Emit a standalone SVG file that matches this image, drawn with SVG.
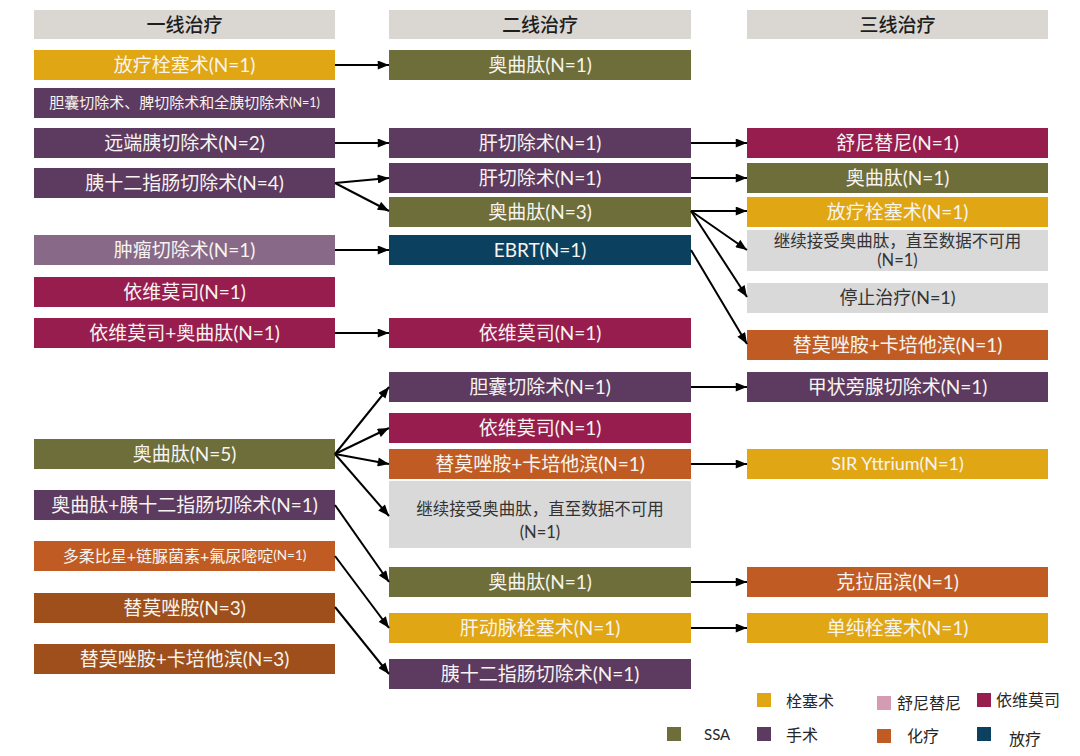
<svg xmlns="http://www.w3.org/2000/svg" width="1080" height="756" viewBox="0 0 1080 756">
<defs>
<marker id="ah" viewBox="0 0 10 8" refX="10" refY="4" markerWidth="12" markerHeight="9" markerUnits="userSpaceOnUse" orient="auto">
<path d="M0,0 L10,4 L0,8 Z" fill="#000"/>
</marker>
<style>
text{font-family:Lato,"Noto Sans CJK SC",sans-serif;text-anchor:middle;dominant-baseline:central;fill:#F7F4F0;font-size:19px}
.hd{fill:#DAD7D3}
.hdt{fill:#1E1E1E;font-weight:500}
.gr{fill:#D9D9D9}
.grt{fill:#333;font-size:16.5px}
.sm{font-size:15px}
.sm2{font-size:16px}
.gold{fill:#E0A614}
.pur{fill:#5D3A5F}
.lpur{fill:#886A88}
.olv{fill:#6D6E39}
.mag{fill:#981D4F}
.org{fill:#C05C23}
.brn{fill:#9E4F1B}
.teal{fill:#0B405F}
.pink{fill:#D49BB2}
.lg{fill:#262626;font-size:16px;text-anchor:start;dominant-baseline:alphabetic}
#connectors path{stroke:#000;stroke-width:2;fill:none;marker-end:url(#ah)}
rect{stroke:none}
</style>
</defs>
<rect width="1080" height="756" fill="#fff"/>

<!-- headers -->
<g id="h1"><rect class="hd" x="34" y="10" width="301" height="29"/><text class="hdt" x="184.5" y="24">一线治疗</text></g>
<g id="h2"><rect class="hd" x="389" y="10" width="302" height="29"/><text class="hdt" x="540" y="24">二线治疗</text></g>
<g id="h3"><rect class="hd" x="747" y="10" width="301" height="29"/><text class="hdt" x="897.5" y="24">三线治疗</text></g>

<!-- column 1 -->
<g id="c1n1"><rect class="gold" x="34" y="50" width="301" height="30"/><text x="184.5" y="64">放疗栓塞术(N=1)</text></g>
<g id="c1n2"><rect class="pur" x="34" y="88" width="301" height="30"/><text class="sm" x="184.5" y="102">胆囊切除术、脾切除术和全胰切除术<tspan style="font-size:12.5px">(N=1)</tspan></text></g>
<g id="c1n3"><rect class="pur" x="34" y="128" width="301" height="30"/><text x="184.5" y="142">远端胰切除术(N=2)</text></g>
<g id="c1n4"><rect class="pur" x="34" y="168" width="301" height="30"/><text x="184.5" y="182">胰十二指肠切除术(N=4)</text></g>
<g id="c1n5"><rect class="lpur" x="34" y="235" width="301" height="30"/><text x="184.5" y="249">肿瘤切除术(N=1)</text></g>
<g id="c1n6"><rect class="mag" x="34" y="277" width="301" height="30"/><text x="184.5" y="291">依维莫司(N=1)</text></g>
<g id="c1n7"><rect class="mag" x="34" y="318" width="301" height="30"/><text x="184.5" y="332">依维莫司+奥曲肽(N=1)</text></g>
<g id="c1n8"><rect class="olv" x="34" y="439" width="301" height="30"/><text x="184.5" y="453">奥曲肽(N=5)</text></g>
<g id="c1n9"><rect class="pur" x="34" y="490" width="301" height="30"/><text x="184.5" y="504">奥曲肽+胰十二指肠切除术(N=1)</text></g>
<g id="c1n10"><rect class="org" x="34" y="541" width="301" height="30"/><text class="sm2" x="184.5" y="555">多柔比星+链脲菌素+氟尿嘧啶<tspan style="font-size:13.5px">(N=1)</tspan></text></g>
<g id="c1n11"><rect class="brn" x="34" y="593" width="301" height="30"/><text x="184.5" y="607">替莫唑胺(N=3)</text></g>
<g id="c1n12"><rect class="brn" x="34" y="644" width="301" height="30"/><text x="184.5" y="658">替莫唑胺+卡培他滨(N=3)</text></g>

<!-- column 2 -->
<g id="c2n1"><rect class="olv" x="389" y="50" width="302" height="30"/><text x="540" y="64">奥曲肽(N=1)</text></g>
<g id="c2n2"><rect class="pur" x="389" y="128" width="302" height="30"/><text x="540" y="142">肝切除术(N=1)</text></g>
<g id="c2n3"><rect class="pur" x="389" y="163" width="302" height="30"/><text x="540" y="177">肝切除术(N=1)</text></g>
<g id="c2n4"><rect class="olv" x="389" y="197" width="302" height="30"/><text x="540" y="211">奥曲肽(N=3)</text></g>
<g id="c2n5"><rect class="teal" x="389" y="235" width="302" height="30"/><text x="540" y="249">EBRT(N=1)</text></g>
<g id="c2n6"><rect class="mag" x="389" y="318" width="302" height="30"/><text x="540" y="332">依维莫司(N=1)</text></g>
<g id="c2n7"><rect class="pur" x="389" y="372" width="302" height="30"/><text x="540" y="386">胆囊切除术(N=1)</text></g>
<g id="c2n8"><rect class="mag" x="389" y="413" width="302" height="30"/><text x="540" y="427">依维莫司(N=1)</text></g>
<g id="c2n9"><rect class="org" x="389" y="449" width="302" height="30"/><text x="540" y="463">替莫唑胺+卡培他滨(N=1)</text></g>
<g id="c2n10"><rect class="gr" x="389" y="481" width="302" height="67"/><text class="grt" x="540" y="509">继续接受奥曲肽，直至数据不可用</text><text class="grt" x="540" y="532">(N=1)</text></g>
<g id="c2n11"><rect class="olv" x="389" y="567" width="302" height="30"/><text x="540" y="581">奥曲肽(N=1)</text></g>
<g id="c2n12"><rect class="gold" x="389" y="613" width="302" height="30"/><text x="540" y="627">肝动脉栓塞术(N=1)</text></g>
<g id="c2n13"><rect class="pur" x="389" y="659" width="302" height="30"/><text x="540" y="673">胰十二指肠切除术(N=1)</text></g>

<!-- column 3 -->
<g id="c3n1"><rect class="mag" x="747" y="128" width="301" height="30"/><text x="897.5" y="142">舒尼替尼(N=1)</text></g>
<g id="c3n2"><rect class="olv" x="747" y="163" width="301" height="30"/><text x="897.5" y="177">奥曲肽(N=1)</text></g>
<g id="c3n3"><rect class="gold" x="747" y="197" width="301" height="30"/><text x="897.5" y="211">放疗栓塞术(N=1)</text></g>
<g id="c3n4"><rect class="gr" x="747" y="230" width="301" height="41"/><text class="grt" x="897.5" y="241">继续接受奥曲肽，直至数据不可用</text><text class="grt" x="897.5" y="260">(N=1)</text></g>
<g id="c3n5"><rect class="gr" x="747" y="283" width="301" height="30"/><text class="grt" x="897.5" y="297" style="font-size:18px">停止治疗(N=1)</text></g>
<g id="c3n6"><rect class="org" x="747" y="330" width="301" height="30"/><text x="897.5" y="344">替莫唑胺+卡培他滨(N=1)</text></g>
<g id="c3n7"><rect class="pur" x="747" y="372" width="301" height="30"/><text x="897.5" y="386">甲状旁腺切除术(N=1)</text></g>
<g id="c3n8"><rect class="gold" x="747" y="449" width="301" height="30"/><text x="897.5" y="463" style="font-size:18px">SIR Yttrium(N=1)</text></g>
<g id="c3n9"><rect class="org" x="747" y="567" width="301" height="30"/><text x="897.5" y="581">克拉屈滨(N=1)</text></g>
<g id="c3n10"><rect class="gold" x="747" y="613" width="301" height="30"/><text x="897.5" y="627">单纯栓塞术(N=1)</text></g>

<!-- connectors -->
<g id="connectors">
<path d="M335,65 L389,65"/>
<path d="M335,143 L389,143"/>
<path d="M335,183 L389,178"/>
<path d="M335,183 L389,211"/>
<path d="M335,250 L389,250"/>
<path d="M335,333 L389,333"/>
<path d="M335,454 L389,387"/>
<path d="M335,454 L389,428"/>
<path d="M335,454 L389,464"/>
<path d="M335,454 L389,516"/>
<path d="M335,505 L389,582"/>
<path d="M335,556 L389,628"/>
<path d="M335,607 L389,674"/>
<path d="M691,143 L747,143"/>
<path d="M691,178 L747,178"/>
<path d="M691,211 L747,211"/>
<path d="M691,211 L747,250"/>
<path d="M691,211 L747,297"/>
<path d="M691,250 L747,344"/>
<path d="M691,387 L747,387"/>
<path d="M691,464 L747,464"/>
<path d="M691,582 L747,582"/>
<path d="M691,628 L747,628"/>
</g>

<!-- legend -->
<g id="legend">
<rect class="gold" x="757" y="693" width="14" height="14"/><text class="lg" x="786" y="707">栓塞术</text>
<rect class="pink" x="877" y="696" width="14" height="14"/><text class="lg" x="897" y="709">舒尼替尼</text>
<rect class="mag" x="977" y="693" width="14" height="14"/><text class="lg" x="996" y="706">依维莫司</text>
<rect class="olv" x="667" y="727" width="14" height="14"/><text class="lg" x="704" y="740" style="font-size:15px">SSA</text>
<rect class="pur" x="757" y="727" width="14" height="14"/><text class="lg" x="786" y="741">手术</text>
<rect class="org" x="877" y="729" width="14" height="14"/><text class="lg" x="907" y="742">化疗</text>
<rect class="teal" x="977" y="727" width="14" height="14"/><text class="lg" x="1009" y="745">放疗</text>
</g>
</svg>
